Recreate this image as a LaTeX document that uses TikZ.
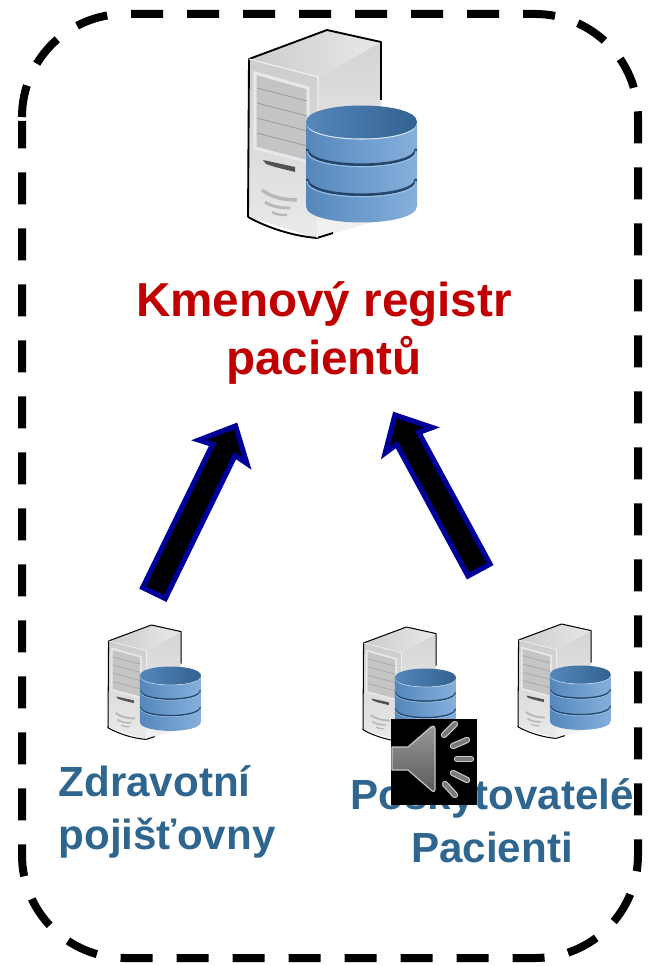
\documentclass[tikz,border=0pt]{standalone}
\usepackage{fontspec}
\usepackage{xcolor}
\setmainfont{Liberation Sans}
\usetikzlibrary{positioning, calc}

\definecolor{registerred}{HTML}{C00000}
\definecolor{labelblue}{HTML}{2F6690}
\definecolor{arrowblue}{HTML}{000099}
\definecolor{dbdark}{HTML}{24466B}
\definecolor{dbleft}{HTML}{5587BC}
\definecolor{dbmid}{HTML}{32628F}
\definecolor{dbright}{HTML}{86B0DC}
\definecolor{dbtop}{HTML}{9CC0E5}

\tikzset{
    pics/server/.style={code={
        \begin{scope}[scale=#1]
        % tower
        \path[top color=black!17, bottom color=black!5] (70,47) -- (133,12) -- (133,190) -- (69,208) -- cycle;
        \path[left color=black!20, right color=black!9] (1,29) -- (79,0) -- (133,12) -- (70,47) -- cycle;
        \path[top color=black!20, bottom color=black!8] (1,29) -- (70,47) -- (69,208) -- (0,187) -- cycle;
        \draw[fill=black!23, draw=black!9, line width=#1*2.4pt] (7,43) -- (60,58) -- (60,132) -- (7,118) -- cycle;
        \foreach \slat in {0,15,30,45}
            \draw[black!40, line width=#1*.6pt] (9,58+\slat) -- (59,71+\slat);
        \path[fill=black!68] (15,130) -- (47,137) -- (47,142) -- (27,137) -- (18,134) -- cycle;
        \draw[black!28, line width=#1*2.6pt] (14,160) .. controls (24,168) and (38,170) .. (49,170);
        \draw[black!28, line width=#1*2.2pt] (17,172) .. controls (24,177) and (34,178) .. (42,178);
        \draw[black!28, line width=#1*1.8pt] (24,182) .. controls (28,185) and (34,185) .. (39,185);
        \draw[black, line width=#1*1.4pt, line join=round] (0,187) -- (1,29) -- (79,0) -- (133,12) -- (133,70);
        \draw[black, line width=#1*1.4pt, line join=round] (0,187) .. controls (20,198) and (45,206) .. (69,208) -- (85,203);
        \draw[black!5, line width=#1*.8pt] (1,29) -- (70,47) -- (69,208);
        % database
        \path[left color=dbleft, middle color=dbmid, right color=dbright]
            (58,92) -- (58,176) .. controls (58,198) and (169,198) .. (169,176) -- (169,92) -- cycle;
        \foreach \band in {118,148} {
            \draw[dbdark, line width=#1*2pt] (59,\band+1) .. controls (59,\band+22) and (168,\band+22) .. (168,\band+1);
            \draw[dbtop, line width=#1*.8pt] (59,\band+3) .. controls (59,\band+24) and (168,\band+24) .. (168,\band+3);
        }
        \draw[white!70!dbtop, line width=#1*1.2pt] (59,93) .. controls (59,114) and (168,114) .. (168,93);
        \path[left color=dbleft, middle color=dbtop, right color=dbmid]
            (58,92) .. controls (58,70) and (169,70) .. (169,92) .. controls (169,114) and (58,114) .. (58,92) -- cycle;
        \end{scope}
    }},
    boundary/.style={draw=black, line width=6pt, dash pattern=on 24pt off 18pt},
    flow/.style={draw=arrowblue, fill=black, line width=3.9pt, to path={
        -- ($(\tikztostart)!9.4pt!90:(\tikztotarget)$)
        -- ($(\tikztotarget)!20pt!(\tikztostart)!9.4pt!-90:(\tikztostart)$)
        -- ($(\tikztotarget)!21.5pt!(\tikztostart)!20pt!-90:(\tikztostart)$)
        -- (\tikztotarget)
        -- ($(\tikztotarget)!21.5pt!(\tikztostart)!20pt!90:(\tikztostart)$)
        -- ($(\tikztotarget)!20pt!(\tikztostart)!9.4pt!90:(\tikztostart)$)
        -- ($(\tikztostart)!9.4pt!-90:(\tikztotarget)$)
        -- cycle}},
    ray/.style={draw=black!22, double=black!52, double distance=3pt, line width=.9pt, line cap=round}
}

\begin{document}
\begin{tikzpicture}[
    x=0.75pt, y=-0.75pt,
    central/.style={text=registerred, align=center, font=\fontsize{35.7}{42.8}\selectfont\bfseries},
    member/.style={text=labelblue, font=\fontsize{31.6}{39.5}\selectfont\bfseries}
]
\useasboundingbox (0,0) rectangle (654,966);

% Outer frame
\draw[boundary] (22,117) .. controls (22,60) and (68,14) .. (125,14) -- (535,14)
    .. controls (592,14) and (638,60) .. (638,117) -- (638,855)
    .. controls (638,912) and (592,958) .. (535,958) -- (125,958)
    .. controls (68,958) and (22,912) .. (22,855) -- (22,121);

% Servers
\pic (main) at (248,30) {server=1};
\pic (insurer) at (108,625) {server=.55};
\pic (provider) at (363,627) {server=.55};
\pic (patient) at (518,624) {server=.55};

% Labels
\node[central] (registr) at (324,333) {Kmenový registr\\pacientů};
\node[member, align=left] (pojistovny) at (167,812) {Zdravotní\\pojišťovny};
\node[member, align=center] (poskytovatele) at (492,821) {Poskytovatelé\\Pacienti};

% Arrows
\coordinate (insurerout) at (154,593);
\coordinate (registrleft) at (235.5,426);
\coordinate (providerout) at (479,570);
\coordinate (registrright) at (395,415);
\draw[flow] (insurerout) to (registrleft);
\draw[flow] (providerout) to (registrright);

% Sound icon
\node[fill=black, minimum size=64.5pt, inner sep=0pt] (sound) at (434,762) {};
\draw[draw=black!22, line width=.9pt, top color=black!40, bottom color=black!65, line join=round]
    (392,747) -- (408,747) -- (431,727) .. controls (434,725) and (435,727) .. (435,730) -- (435,789) .. controls (435,792) and (433,792) .. (431,790) -- (408,770) -- (392,770) -- cycle;
\draw[ray] (444,735) -- (455,724);
\draw[ray] (453,746) -- (467,740);
\draw[ray] (457,759) -- (471,759);
\draw[ray] (453,773) -- (467,780);
\draw[ray] (445,784) -- (455,795);

\end{tikzpicture}
\end{document}
